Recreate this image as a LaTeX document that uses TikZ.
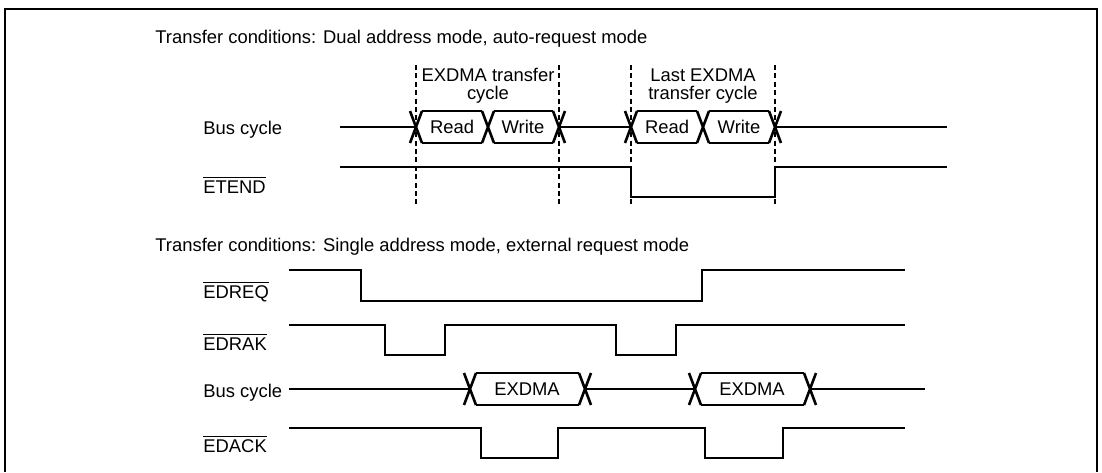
\documentclass[tikz,border=0pt]{standalone}
\usepackage{fontspec}
\setmainfont{Liberation Sans}
\usetikzlibrary{positioning}
\tikzset{
  sig/.style   = {line width=1.3pt},
  guide/.style = {line width=0.6pt, dash pattern=on 2.5pt off 1.7pt},
  lbl/.style   = {font=\fontsize{9.2}{9}\selectfont, inner sep=0pt},
  frm/.style   = {line width=1pt},
}
\newcommand{\ovl}[1]{$\overline{\mbox{#1}}$}

\begin{document}
\begin{tikzpicture}[x=0.5pt,y=-0.5pt]
  \useasboundingbox (0,0) rectangle (1102,472);
  \draw[frm] (5,472) -- (5,9) -- (1097,9) -- (1097,472);
  % dual address mode, auto-request mode
  \node[lbl,anchor=base west] (ttlA) at (155,43)
      {Transfer conditions: Dual address mode, auto-request mode};
  \foreach \x in {416,559,631,775}
    \draw[guide] (\x,65) -- (\x,207);
  \node[lbl,align=center,anchor=north] (cycA) at (488,68) {EXDMA transfer\\cycle};
  \node[lbl,align=center,anchor=north] (cycB) at (703,68) {Last EXDMA\\transfer cycle};
  \node[lbl,anchor=base west] (busA) at (203,134) {Bus cycle};
  \draw[sig] (340,127) -- (416,127) (559,127) -- (631,127) (775,127) -- (947,127);
  \foreach \c in {416,488,559,631,703,775}
    \draw[sig] (\c-6,111) -- (\c+6,143) (\c-6,143) -- (\c+6,111);
  \foreach \a/\b in {416/488,488/559,631/703,703/775}
    \draw[sig] (\a+6,111) -- (\b-6,111) (\a+6,143) -- (\b-6,143);
  \node[lbl] (rdA) at (452,127) {Read};
  \node[lbl] (wrA) at (523,127) {Write};
  \node[lbl] (rdB) at (667,127) {Read};
  \node[lbl] (wrB) at (739,127) {Write};
  \node[lbl,anchor=base west] (etend) at (203,193) {\ovl{ETEND}};
  \draw[sig] (340,167) -- (631,167) -- (631,197) -- (775,197) -- (775,167) -- (947,167);
  % single address mode, external request mode
  \node[lbl,anchor=base west] (ttlB) at (155,251)
      {Transfer conditions: Single address mode, external request mode};
  \node[lbl,anchor=base west] (edreq) at (203,298) {\ovl{EDREQ}};
  \draw[sig] (289,270) -- (361,270) -- (361,301) -- (702,301) -- (702,270) -- (905,270);
  \node[lbl,anchor=base west] (edrak) at (203,350) {\ovl{EDRAK}};
  \draw[sig] (289,325) -- (385,325) -- (385,355) -- (445,355) -- (445,325)
      -- (616,325) -- (616,355) -- (676,355) -- (676,325) -- (905,325);
  \node[lbl,anchor=base west] (busB) at (203,397) {Bus cycle};
  \draw[sig] (289,389) -- (470,389) (585,389) -- (695,389) (810,389) -- (925,389);
  \foreach \c in {470,585,695,810}
    \draw[sig] (\c-6,373) -- (\c+6,405) (\c-6,405) -- (\c+6,373);
  \foreach \a/\b in {470/585,695/810}
    \draw[sig] (\a+6,373) -- (\b-6,373) (\a+6,405) -- (\b-6,405);
  \node[lbl] (dmaA) at (527,389) {EXDMA};
  \node[lbl] (dmaB) at (752,389) {EXDMA};
  \node[lbl,anchor=base west] (edack) at (203,452) {\ovl{EDACK}};
  \draw[sig] (289,428) -- (481,428) -- (481,458) -- (558,458) -- (558,428)
      -- (705,428) -- (705,458) -- (783,458) -- (783,428) -- (905,428);
\end{tikzpicture}
\end{document}
